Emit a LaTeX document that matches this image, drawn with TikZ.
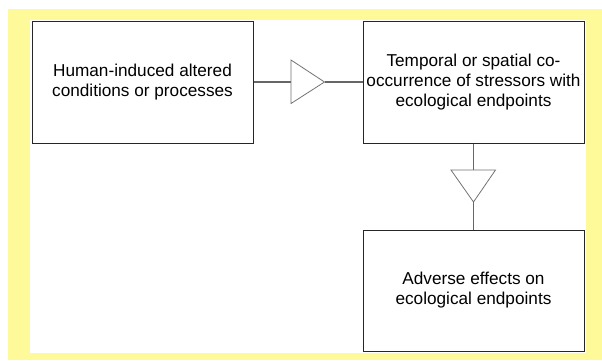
\documentclass[tikz,border=0pt]{standalone}
\usepackage{fontspec}
\setmainfont{Liberation Sans}
\begin{document}
\begin{tikzpicture}[x=1pt,y=-1pt,
  panel/.style={fill=white,draw=none},
  procbox/.style={draw=black!85,line width=1pt,fill=white,inner sep=0pt,
    align=center,font=\fontsize{17.2}{20}\selectfont},
  link/.style={draw=black!60,line width=1.1pt},
  valve/.style={draw=black!55,line width=0.8pt,fill=white,line join=miter}]
  % page, yellow frame and white panel
  \useasboundingbox (0,0) rectangle (602,360);
  \fill[white] (0,0) rectangle (602,360);
  \fill[yellow!40] (7.5,8.5) rectangle (602,360);
  \fill[panel] (30,20) rectangle (586,353);
  % process boxes
  \node[procbox,minimum width=221pt,minimum height=122pt] (human) at (142.5,82)
    {Human-induced altered\\conditions or processes};
  \node[procbox,minimum width=221pt,minimum height=122pt] (cooc) at (473.5,82)
    {Temporal or spatial co-\\occurrence of stressors with\\ecological endpoints};
  \node[procbox,minimum width=221pt,minimum height=121pt] (adverse) at (473.5,290.5)
    {Adverse effects on\\ecological endpoints};
  % triangle markers on the connectors
  \coordinate (t1a) at (291,60);
  \coordinate (t1b) at (291,103.5);
  \coordinate (t1tip) at (324.5,82);
  \coordinate (t1in) at (291,82);
  \coordinate (t2a) at (451,170);
  \coordinate (t2b) at (495.5,170);
  \coordinate (t2tip) at (473.5,202);
  \coordinate (t2in) at (473.5,170);
  % connectors
  \draw[link] (human.east) -- (t1in);
  \draw[link] (t1tip) -- (cooc.west);
  \draw[link] (cooc.south) -- (t2in);
  \draw[link] (t2tip) -- (adverse.north);
  \draw[valve] (t1a) -- (t1tip) -- (t1b) -- cycle;
  \draw[valve] (t2a) -- (t2b) -- (t2tip) -- cycle;
\end{tikzpicture}
\end{document}
